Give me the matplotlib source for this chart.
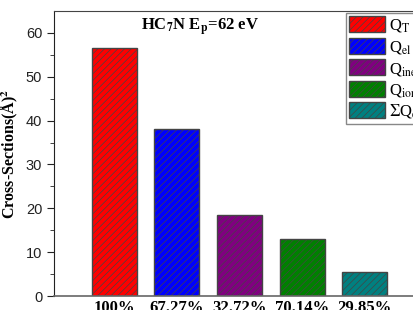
import matplotlib
matplotlib.use("Agg")
import matplotlib.pyplot as plt

categories = ["100%", "67.27%", "32.72%", "70.14%", "29.85%"]
values = [56.6, 38.2, 18.5, 13.0, 5.5]
legend_labels = [r"Q$_\mathrm{T}$", r"Q$_\mathrm{el}$", r"Q$_\mathrm{inel}$",
                 r"Q$_\mathrm{ion}$", r"$\Sigma$Q$_\mathrm{exc}$"]
colors = ["#ff0000", "#0000ff", "#800080", "#008000", "#008080"]

plt.rcParams["mathtext.fontset"] = "stix"
plt.rcParams["hatch.linewidth"] = 0.5
plt.rcParams["hatch.color"] = "#202020"

fig = plt.figure(figsize=(4.14, 3.10), dpi=100)
ax = fig.add_axes([54/414, 1-296/310, 376/414, 285/310])

x = list(range(1, len(values)+1))
for xi, v, c, lab in zip(x, values, colors, legend_labels):
    ax.bar(xi, v, width=0.72, color=c, edgecolor="#444444", linewidth=1.0,
           hatch="/////", label=lab)

ax.set_xlim(0.04, 6.04)
ax.set_ylim(0, 65)
ax.set_xticks(x)
ax.set_xticklabels(categories, fontfamily="Liberation Serif", fontweight="bold", fontsize=12)
ax.tick_params(axis="x", length=0, pad=3)
ax.set_xticks([3], minor=True)
ax.tick_params(axis="x", which="minor", length=6, direction="out", color="#444444")
ax.set_yticks(range(0, 61, 10))
ax.set_yticks(range(5, 61, 10), minor=True)
ax.tick_params(axis="y", which="major", length=5, direction="out", labelsize=10.5, colors="#222222")
ax.tick_params(axis="y", which="minor", length=3, direction="out", color="#222222")
for t in ax.get_yticklabels():
    t.set_fontfamily("Liberation Sans")

ax.spines["bottom"].set_color("#666666")
ax.spines["bottom"].set_linewidth(1.2)
ax.spines["left"].set_color("#222222")
ax.spines["top"].set_color("#444444")

ax.set_ylabel("Cross-Sections(Å)$^\\mathbf{2}$", fontfamily="Liberation Serif",
              fontweight="bold", fontsize=11.5, labelpad=4)

ax.text(200, 310-27, r"HC$_\mathbf{7}$N E$_\mathbf{p}$=62 eV", transform=None,
        fontfamily="Liberation Serif", fontweight="bold", fontsize=12, ha="center", va="center")

leg = ax.legend(loc="upper left", bbox_to_anchor=((346-54)/376, (296-13)/285),
                borderaxespad=0, fancybox=False, edgecolor="#888888", framealpha=1,
                prop={"family": "Liberation Serif", "size": 12},
                handlelength=2.15, handleheight=1.1, labelspacing=0.2,
                handletextpad=0.25, borderpad=0.2)
leg.get_frame().set_linewidth(1.0)

fig.savefig("out.png", dpi=100)
